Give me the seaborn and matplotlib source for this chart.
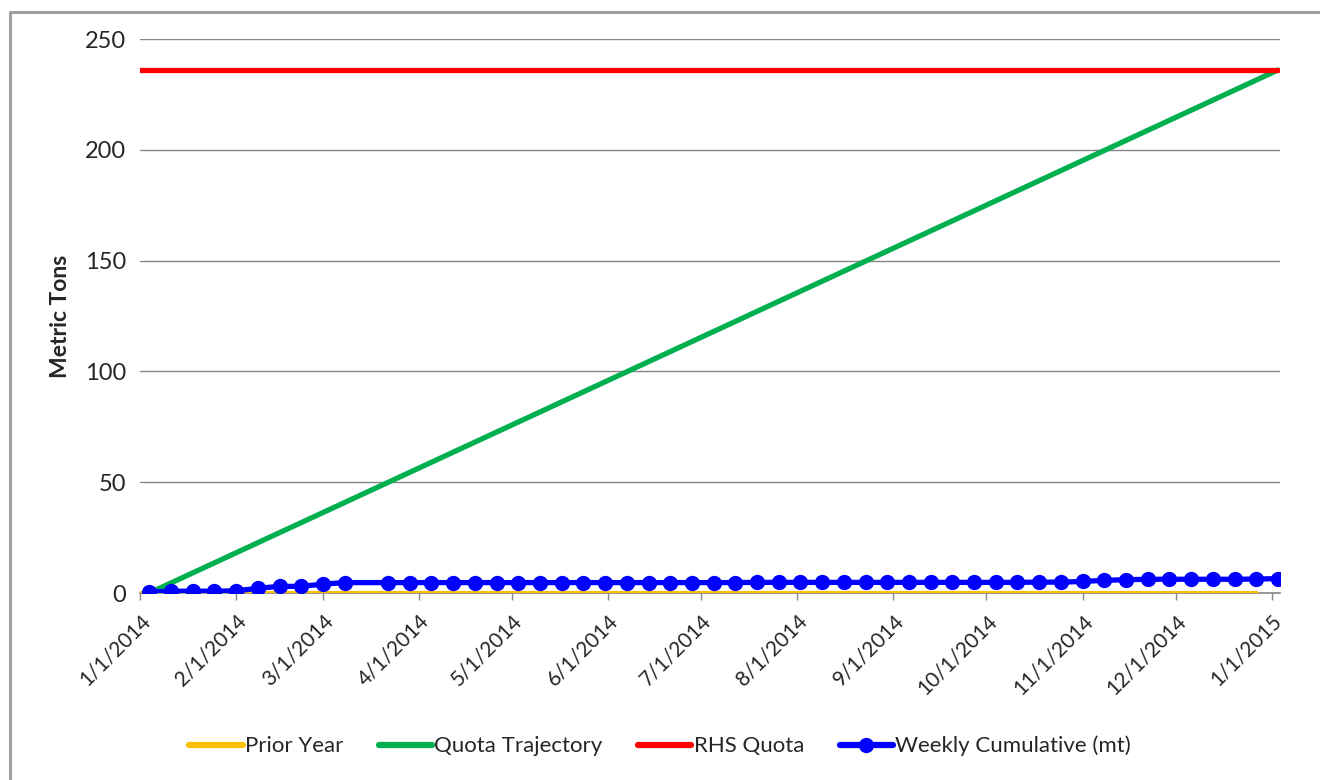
import numpy as np
import pandas as pd
import matplotlib
matplotlib.use("Agg")
import matplotlib.pyplot as plt
from matplotlib.lines import Line2D
import seaborn as sns

# ---------------- data ----------------
week_dates = pd.date_range("2014-01-04", "2015-01-03", freq="7D")
weekly_cumulative = [
    0.5, 0.8, 0.8, 0.8, 1.0, 2.1, 3.0, 3.0, 4.0, 4.7,
    np.nan,
    4.7, 4.7, 4.7, 4.7, 4.7, 4.7, 4.7, 4.7, 4.7, 4.7,
    4.7, 4.7, 4.7, 4.7, 4.7, 4.7, 4.7, 4.8, 4.8, 4.8,
    4.8, 4.8, 4.8, 4.8, 4.8, 4.8, 4.8, 4.8, 4.8, 4.8,
    4.9, 4.9,
    5.2, 5.7, 6.0, 6.2, 6.2, 6.2, 6.2, 6.2, 6.3, 6.5,
]
prior_dates = pd.to_datetime(["2014-01-01", "2014-12-27"])
prior_values = [0, 0]
traj_dates = pd.to_datetime(["2014-01-04", "2015-01-03"])
traj_values = [0, 236]
rhs_dates = pd.to_datetime(["2014-01-01", "2015-01-03"])
rhs_values = [236, 236]
tick_dates = pd.date_range("2014-01-01", "2015-01-01", freq="MS")
y_ticks = [0, 50, 100, 150, 200, 250]

# ---------------- style ----------------
sns.set_theme(style="white")
plt.rcParams["font.family"] = ["Lato", "DejaVu Sans"]

fig = plt.figure(figsize=(13.2, 7.8), dpi=100)
ax = fig.add_axes([140 / 1320, 1 - 593 / 780, 1140 / 1320, 554 / 780])

df_w = pd.DataFrame({"date": week_dates, "value": weekly_cumulative}).dropna()
df_p = pd.DataFrame({"date": prior_dates, "value": prior_values})
df_t = pd.DataFrame({"date": traj_dates, "value": traj_values})
df_r = pd.DataFrame({"date": rhs_dates, "value": rhs_values})

sns.lineplot(data=df_p, x="date", y="value", ax=ax, color="#FFC000", lw=3.6,
             label="Prior Year", zorder=3, solid_capstyle="round")
sns.lineplot(data=df_t, x="date", y="value", ax=ax, color="#00B050", lw=3.8,
             label="Quota Trajectory", zorder=4, solid_capstyle="round")
sns.lineplot(data=df_r, x="date", y="value", ax=ax, color="#FF0000", lw=3.8,
             label="RHS Quota", zorder=4, solid_capstyle="round")
sns.lineplot(data=df_w, x="date", y="value", ax=ax, color="#0000FF", lw=3.8,
             marker="o", markersize=11, markeredgewidth=0,
             label="Weekly Cumulative (mt)", zorder=5)

ax.set_xlim(pd.Timestamp("2014-01-01"), pd.Timestamp("2015-01-03 16:00"))
ax.set_ylim(0, 250)
ax.set_yticks(y_ticks)
ax.set_xticks(tick_dates)
ax.set_xticklabels([f"{d.month}/{d.day}/{d.year}" for d in tick_dates],
                   rotation=45, ha="right", va="top", rotation_mode="anchor")
ax.tick_params(axis="x", labelsize=15, length=5, width=1, color="#868686",
               direction="out", pad=8, bottom=True)
ax.tick_params(axis="y", labelsize=17, length=0, pad=10)
ax.yaxis.grid(True, color="#868686", lw=1)
ax.set_axisbelow(True)
for s in ["left", "right", "top"]:
    ax.spines[s].set_visible(False)
ax.spines["bottom"].set_color("#868686")
ax.spines["bottom"].set_linewidth(1.2)
ax.set_xlabel("")
ax.set_ylabel("Metric Tons", fontsize=16.5, fontweight="bold", labelpad=10)

ax.get_legend().remove()
handles, labels = ax.get_legend_handles_labels()
leg = fig.legend(handles, labels, loc="center", bbox_to_anchor=(0.5, 1 - 746 / 780),
                 ncol=4, frameon=False, fontsize=16, handlelength=2.4,
                 handletextpad=0.1, columnspacing=1.6)
for h in leg.get_lines():
    h.set_linewidth(4.5)
    h.set_solid_capstyle("round")

# chart-area border (top and left edges only)
x0, y0 = 9.5 / 1320, 1 - 11.5 / 780
fig.add_artist(Line2D([x0, 1.0], [y0, y0], transform=fig.transFigure,
                      color="#A0A0A0", lw=2.2))
fig.add_artist(Line2D([x0, x0], [0.0, y0], transform=fig.transFigure,
                      color="#A0A0A0", lw=2.2))

fig.savefig("out.png", dpi=100)
